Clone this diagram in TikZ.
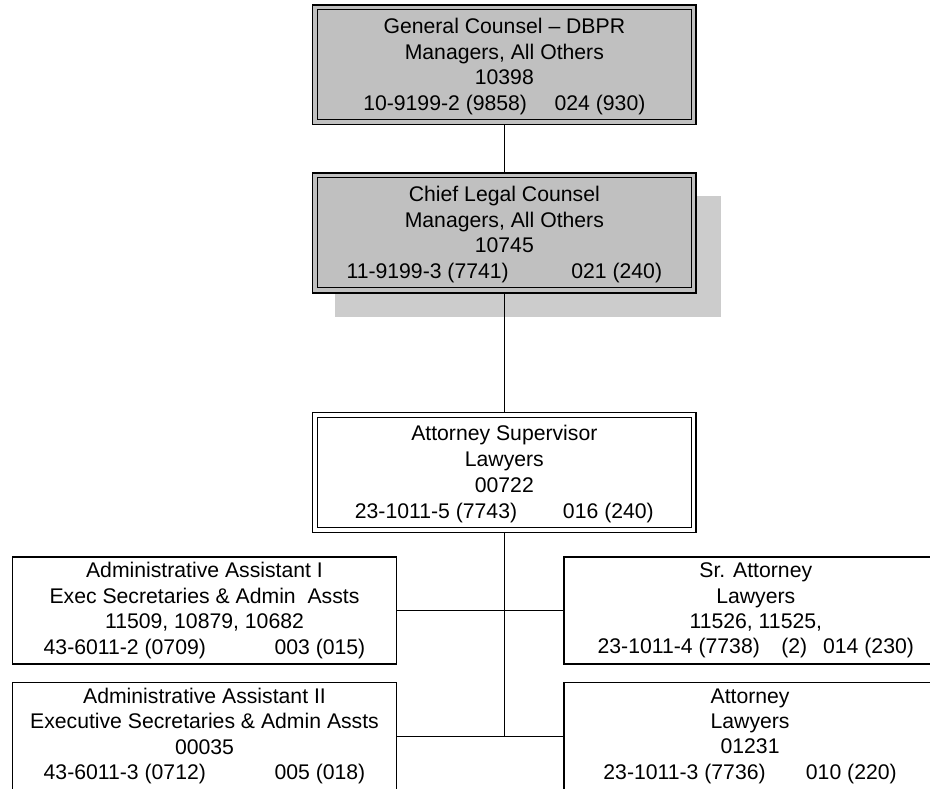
\documentclass[tikz,border=0pt]{standalone}
\usepackage{fontspec}
\setmainfont{Liberation Sans}
\definecolor{boxgray}{HTML}{C0C0C0}
\definecolor{shadowgray}{HTML}{CCCCCC}

\begin{document}
\begin{tikzpicture}[x=1pt,y=-1pt,
  every node/.style={font=\fontsize{21.2pt}{25.4pt}\selectfont, align=center, inner sep=0pt, outer sep=0pt},
  posbox/.style={draw=black, line width=1.5pt, minimum width=384pt, minimum height=107.2pt},
  leadbox/.style={posbox, minimum width=383.3pt, minimum height=119.7pt,
    font=\fontsize{21.2pt}{25.7pt}\selectfont},
  graybox/.style={leadbox, fill=boxgray},
  leadtext/.style={font=\fontsize{21.2pt}{25.7pt}\selectfont},
  innerline/.style={line width=1pt},
  link/.style={line width=0.9pt}]

  \useasboundingbox (0,0) rectangle (930,789);

  % drop shadow behind the chief legal counsel box
  \fill[shadowgray] (335,196) rectangle (720.7,317);

  % management chain: framed boxes, then their texts
  \node[graybox] (gc) at (504.35,64.65) {};
  \node[graybox] (clc) at (504.35,232.9) {};
  \node[leadbox, fill=white] (as) at (504.35,472.5) {};

  % inner rules of the double-framed boxes
  \foreach \n in {gc,clc,as}
    \draw[innerline] ([shift={(4.3,4.8)}]\n.north west) rectangle ([shift={(-4.8,-4.8)}]\n.south east);

  \node[leadtext] (gctext) at ([yshift=-1.8pt]gc.center)
    {General Counsel – DBPR\\ Managers, All Others\\ 10398\\
     10-9199-2 (9858)\hspace{27.6pt}024 (930)};
  \node[leadtext] (clctext) at ([yshift=-1.5pt]clc.center)
    {Chief Legal Counsel\\ Managers, All Others\\ 10745\\
     11-9199-3 (7741)\hspace{62.6pt}021 (240)};
  \node[leadtext] (astext) at ([yshift=-1.5pt]as.center)
    {Attorney Supervisor\\ Lawyers\\ 00722\\
     23-1011-5 (7743)\hspace{45.9pt}016 (240)};

  % staff under the attorney supervisor
  \node[posbox] (aa1) at (204.5,610.6)
    {Administrative Assistant I\\ Exec Secretaries \& Admin~~Assts\\ 11509, 10879, 10682\\
     43-6011-2 (0709)\hspace{68.6pt}003 (015)};
  \node[posbox] (aa2) at (204.5,736.1)
    {Administrative Assistant II\\ Executive Secretaries \& Admin Assts\\ 00035\\
     43-6011-3 (0712)\hspace{68.6pt}005 (018)};
  \node[posbox, minimum width=383.2pt] (sr) at (755.8,610.6)
    {Sr. Attorney\\ Lawyers\\ 11526, 11525,\\
     23-1011-4 (7738)\hspace{21.4pt}(2)\hspace{16pt}014 (230)};
  \node[posbox, minimum width=371.8pt] (at) at (750.1,736.1)
    {Attorney\\ Lawyers\\ 01231\\
     23-1011-3 (7736)\hspace{40.3pt}010 (220)};

  % reporting lines
  \coordinate (trunk) at (as.south |- aa2.east);
  \draw[link] (gc.south) -- (clc.north);
  \draw[link] (clc.south) -- (as.north);
  \draw[link] (as.south) -- (trunk);
  \draw[link] (aa1.east) -- (sr.west);
  \draw[link] (aa2.east) -- (at.west);
\end{tikzpicture}
\end{document}
